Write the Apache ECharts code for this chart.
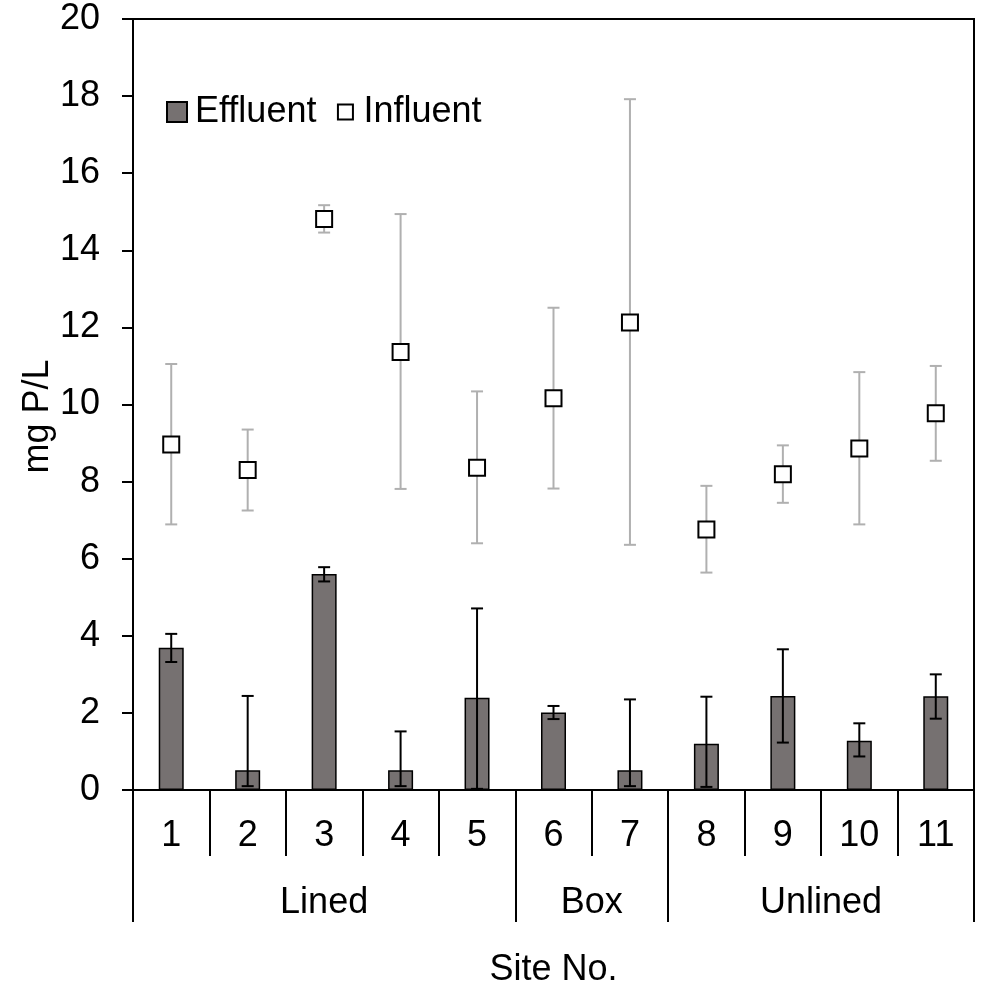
<!DOCTYPE html>
<html>
<head>
<meta charset="utf-8">
<script src="https://cdn.jsdelivr.net/npm/echarts@6/dist/echarts.min.js"></script>
<style>
  html, body { margin: 0; padding: 0; background: #fff; }
  #main { width: 984px; height: 983px; }
</style>
</head>
<body>
<div id="main"></div>
<script>
// site numbers and the site type groups
var sites = ['1', '2', '3', '4', '5', '6', '7', '8', '9', '10', '11'];
var groupNames = ['Lined', 'Box', 'Unlined'];
var groupBounds = [0, 5, 7, 11];

// mg P/L
var effluent     = [3.69, 0.51, 5.60, 0.51, 2.39, 2.01, 0.51, 1.20, 2.44, 1.28, 2.43];
var effluentLow  = [3.32, 0.10, 5.41, 0.10, 0.03, 1.84, 0.10, 0.08, 1.23, 0.87, 1.85];
var effluentHigh = [4.05, 2.44, 5.78, 1.52, 4.71, 2.18, 2.35, 2.42, 3.65, 1.73, 3.00];

var influent     = [8.96, 8.30, 14.81, 11.36, 8.36, 10.16, 12.13, 6.76, 8.19, 8.86, 9.77];
var influentLow  = [6.89, 7.25, 14.46, 7.81, 6.40, 7.82, 6.36, 5.64, 7.45, 6.89, 8.54];
var influentHigh = [11.05, 9.35, 15.17, 14.94, 10.34, 12.51, 17.92, 7.89, 8.94, 10.84, 11.00];

var font = 'Liberation Sans, Arial, sans-serif';

var groupCenters = [];
for (var g = 0; g < groupNames.length; g++) {
  groupCenters.push((groupBounds[g] + groupBounds[g + 1]) / 2);
}

function errData(lo, hi) {
  var out = [];
  for (var i = 0; i < lo.length; i++) out.push([i, lo[i], hi[i]]);
  return out;
}

function errRender(color, width, cap) {
  return function (params, api) {
    var x = api.value(0);
    var lo = api.coord([x, api.value(1)]);
    var hi = api.coord([x, api.value(2)]);
    var st = { stroke: color, lineWidth: width };
    return {
      type: 'group',
      children: [
        { type: 'line', shape: { x1: lo[0], y1: lo[1], x2: hi[0], y2: hi[1] }, style: st },
        { type: 'line', shape: { x1: hi[0] - cap / 2, y1: hi[1], x2: hi[0] + cap / 2, y2: hi[1] }, style: st },
        { type: 'line', shape: { x1: lo[0] - cap / 2, y1: lo[1], x2: lo[0] + cap / 2, y2: lo[1] }, style: st }
      ]
    };
  };
}

var chart = echarts.init(document.getElementById('main'));
var option = {
  animation: false,
  textStyle: { fontFamily: font, color: '#000' },
  grid: {
    left: 133, right: 10, top: 19, bottom: 193,
    outerBoundsMode: 'none',
    containLabel: false,
    show: true, borderColor: '#000', borderWidth: 2
  },
  legend: {
    data: [
      { name: 'Effluent', icon: 'rect' },
      // smaller square inside the same icon box
      { name: 'Influent', icon: 'path://M0,0M2.5,2.5h15v15h-15zM20,20' }
    ],
    left: 161, top: 89,
    itemWidth: 20, itemHeight: 20, itemGap: 18,
    textStyle: { fontSize: 36, fontFamily: font, color: '#000', padding: [0, 0, 0, 3] }
  },
  xAxis: [{
    type: 'category',
    data: sites,
    axisLine: { lineStyle: { color: '#000', width: 2 } },
    axisTick: { show: true, length: 66, lineStyle: { color: '#000', width: 2 } },
    axisLabel: { fontSize: 36, color: '#000', margin: 28, fontFamily: font }
  }, {
    type: 'value',
    min: 0, max: 11,
    position: 'bottom',
    name: 'Site No.',
    nameLocation: 'middle',
    nameGap: 162,
    nameMoveOverlap: false,
    nameTextStyle: { fontSize: 36, color: '#000', fontFamily: font },
    splitLine: { show: false },
    axisLine: { show: false },
    axisTick: { show: true, length: 132, customValues: groupBounds, lineStyle: { color: '#000', width: 2 } },
    axisLabel: {
      fontSize: 36, color: '#000', margin: 95, fontFamily: font,
      customValues: groupCenters,
      formatter: function (v) { return groupNames[groupCenters.indexOf(v)]; }
    }
  }],
  yAxis: {
    type: 'value',
    min: 0, max: 20, interval: 2,
    name: 'mg P/L',
    nameLocation: 'middle',
    nameGap: 77,
    nameMoveOverlap: false,
    nameTextStyle: { fontSize: 36, color: '#000', fontFamily: font, padding: [0, 24, 0, 0] },
    splitLine: { show: false },
    axisLine: { show: true, lineStyle: { color: '#000', width: 2 } },
    axisTick: { show: true, length: 11, lineStyle: { color: '#000', width: 2 } },
    axisLabel: { fontSize: 36, color: '#000', margin: 33, fontFamily: font }
  },
  series: [{
    name: 'Effluent',
    type: 'bar',
    data: effluent,
    barWidth: 25,
    itemStyle: { color: '#767171', borderColor: '#000', borderWidth: 1.5 },
    z: 2
  }, {
    name: 'effluentErr',
    type: 'custom',
    data: errData(effluentLow, effluentHigh),
    encode: { x: 0, y: [1, 2] },
    renderItem: errRender('#000', 2, 12),
    z: 3
  }, {
    name: 'influentErr',
    type: 'custom',
    data: errData(influentLow, influentHigh),
    encode: { x: 0, y: [1, 2] },
    renderItem: errRender('#b0b0b0', 2, 12),
    z: 4
  }, {
    name: 'Influent',
    type: 'scatter',
    data: influent,
    symbol: 'rect',
    symbolSize: 16,
    itemStyle: { color: '#fff', borderColor: '#000', borderWidth: 2, opacity: 1 },
    z: 5
  }]
};
chart.setOption(option);
</script>
</body>
</html>
